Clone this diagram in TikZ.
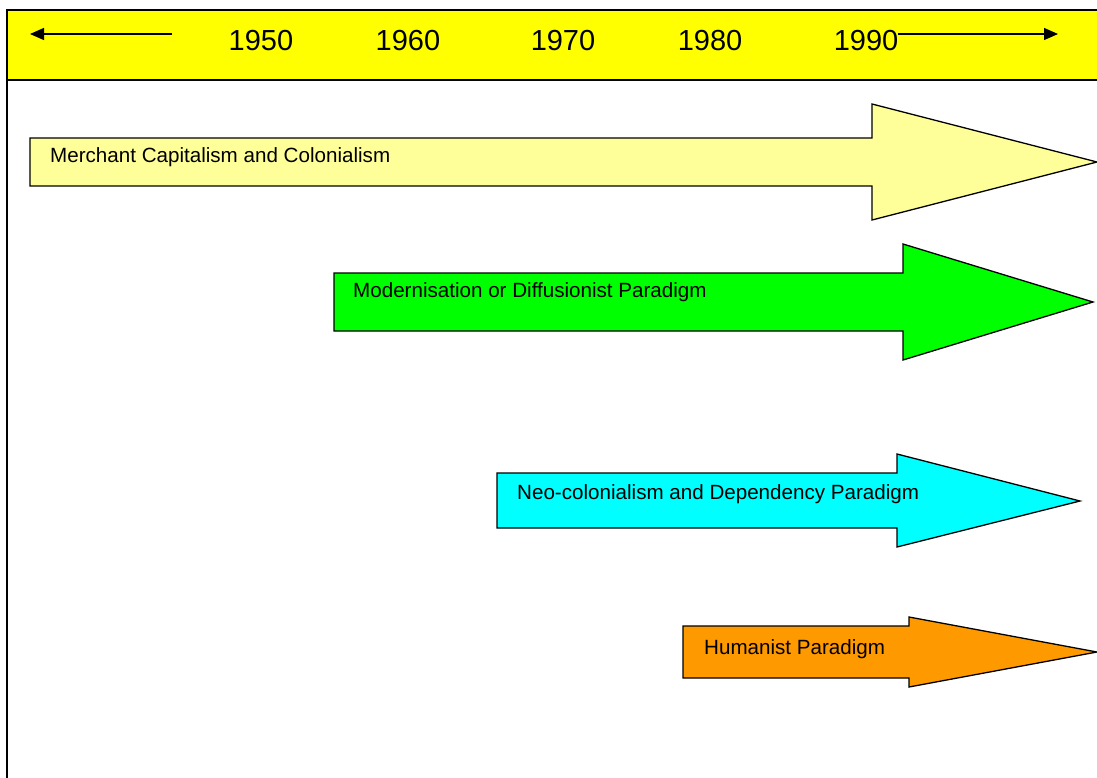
\documentclass[tikz,border=0pt]{standalone}
\usepackage{fontspec}
\setmainfont{Liberation Sans}
\usetikzlibrary{arrows.meta}
\definecolor{headyellow}{HTML}{FFFF00}
\definecolor{paleyellow}{HTML}{FFFF99}
\definecolor{brightgreen}{HTML}{00FF00}
\definecolor{aqua}{HTML}{00FFFF}
\definecolor{amber}{HTML}{FF9900}
\tikzset{
  year/.style={font=\fontsize{29}{33}\selectfont, inner sep=0pt, anchor=base},
  label/.style={font=\fontsize{20.6}{24}\selectfont, inner sep=0pt, anchor=base west},
  bigarrow/.style={draw=black, line width=1.3pt, line join=miter},
  timeline/.style={line width=1.3pt, -{Triangle[length=14pt,width=12pt]}},
}
% blockarrow: fill colour, left x, shaft top, shaft bottom, head x, head top, head bottom, tip x, tip y
\newcommand{\blockarrow}[9]{%
  \fill[#1] (#2,#3) -- (#5,#3) -- (#5,#6) -- (#8,#9) -- (#5,#7) -- (#5,#4) -- (#2,#4) -- cycle;
  \draw[bigarrow] (#2,#3) -- (#5,#3) -- (#5,#6) -- (#8,#9) -- (#5,#7) -- (#5,#4) -- (#2,#4) -- cycle;
}
\begin{document}
\begin{tikzpicture}[x=1pt,y=-1pt]
\useasboundingbox (0,0) rectangle (1097,777);
\fill[white] (0,0) rectangle (1097,777);
\begin{scope}
\clip (0,0) rectangle (1097,777);
% header band and frame
\fill[headyellow] (7,10) rectangle (1110,80);
\draw[line width=1.3pt] (1110,10) -- (7,10) -- (7,790);
\draw[line width=1.3pt] (7,80) -- (1110,80);

% years
\node[year] (y1950) at (261,50) {1950};
\node[year] (y1960) at (408,50) {1960};
\node[year] (y1970) at (563,50) {1970};
\node[year] (y1980) at (710,50) {1980};
\node[year] (y1990) at (866,50) {1990};

% timeline arrows
\coordinate (lstart) at (172,34);
\coordinate (lend) at (30,34);
\coordinate (rstart) at (898,34);
\coordinate (rend) at (1058,34);
\draw[timeline] (lstart) -- (lend);
\draw[timeline] (rstart) -- (rend);

% paradigm arrows
\blockarrow{paleyellow}{30}{138}{186}{872}{104}{220}{1097}{162}
\blockarrow{brightgreen}{334}{273}{331}{903}{244}{360}{1093}{302}
\blockarrow{aqua}{497}{473}{528}{897}{454}{547}{1080}{501}
\blockarrow{amber}{683}{626}{678}{909}{617}{687}{1097}{652}

\node[label] (merchant) at (50,162) {Merchant Capitalism and Colonialism};
\node[label] (modern) at (353,297) {Modernisation or Diffusionist Paradigm};
\node[label] (neo) at (517,499) {Neo-colonialism and Dependency Paradigm};
\node[label] (human) at (704,654) {Humanist Paradigm};
\end{scope}
\end{tikzpicture}
\end{document}
